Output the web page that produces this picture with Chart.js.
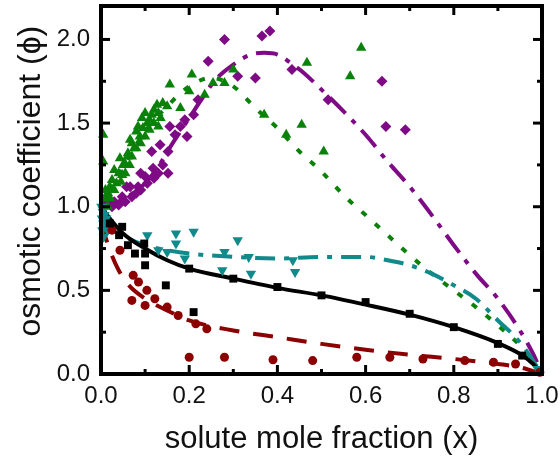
<!DOCTYPE html>
<html>
<head>
<meta charset="utf-8">
<script src="https://cdn.jsdelivr.net/npm/chart.js@4.4.0/dist/chart.umd.min.js"></script>
<style>
  html, body { margin: 0; padding: 0; background: #fff; }
</style>
</head>
<body>
<canvas id="osmoticChart" width="560" height="458"></canvas>
<script>
// black squares + solid fit
const squareX = [0.02, 0.041, 0.048, 0.061, 0.077, 0.098, 0.10, 0.10, 0.147, 0.20, 0.21, 0.30, 0.40, 0.50, 0.60, 0.70, 0.80, 0.90, 0.955];
const squareY = [0.90, 0.83, 0.88, 0.77, 0.72, 0.78, 0.72, 0.65, 0.53, 0.63, 0.37, 0.57, 0.52, 0.47, 0.43, 0.36, 0.28, 0.18, 0.11];
const blackFitX = [0, 0.02, 0.05, 0.1, 0.15, 0.2, 0.3, 0.4, 0.5, 0.6, 0.7, 0.8, 0.9, 0.95, 0.98, 1.0];
const blackFitY = [1.0, 0.93, 0.84, 0.75, 0.68, 0.63, 0.57, 0.515, 0.47, 0.415, 0.355, 0.28, 0.185, 0.12, 0.06, 0.0];

// maroon circles + dashed fit
const circleX = [0.025, 0.043, 0.07, 0.073, 0.085, 0.1, 0.104, 0.122, 0.15, 0.175, 0.2, 0.215, 0.24, 0.28, 0.39, 0.48, 0.58, 0.655, 0.73, 0.825, 0.89, 0.94, 0.995];
const circleY = [0.86, 0.74, 0.44, 0.59, 0.55, 0.41, 0.50, 0.45, 0.40, 0.35, 0.10, 0.30, 0.27, 0.10, 0.085, 0.08, 0.10, 0.10, 0.09, 0.08, 0.07, 0.06, 0.01];
const maroonFitX = [0, 0.01, 0.02, 0.04, 0.06, 0.1, 0.15, 0.2, 0.3, 0.4, 0.5, 0.6, 0.7, 0.8, 0.9, 0.95, 1.0];
const maroonFitY = [0.9, 0.82, 0.74, 0.62, 0.54, 0.45, 0.38, 0.32, 0.26, 0.22, 0.18, 0.145, 0.115, 0.09, 0.06, 0.04, 0.0];

// teal down triangles + dash-dot fit
const downX = [0.001, 0.002, 0.003, 0.004, 0.005, 0.006, 0.008, 0.01, 0.012, 0.015, 0.105, 0.13, 0.15, 0.17, 0.17, 0.19, 0.21, 0.275, 0.28, 0.31, 0.335, 0.34, 0.435, 0.44, 0.99];
const downY = [1.0, 0.93, 0.86, 0.97, 0.9, 0.82, 0.95, 0.88, 0.93, 0.86, 0.83, 0.74, 0.73, 0.84, 0.78, 0.69, 0.85, 0.62, 0.73, 0.80, 0.70, 0.60, 0.68, 0.61, 0.03];
const tealFitX = [0, 0.02, 0.05, 0.1, 0.15, 0.2, 0.3, 0.4, 0.5, 0.6, 0.65, 0.7, 0.75, 0.8, 0.85, 0.9, 0.95, 1.0];
const tealFitY = [1.0, 0.9, 0.83, 0.77, 0.74, 0.72, 0.70, 0.69, 0.70, 0.70, 0.68, 0.65, 0.60, 0.53, 0.45, 0.32, 0.19, 0.0];

// green up triangles + dotted fit
const upX = [0.005, 0.005, 0.008, 0.01, 0.015, 0.016, 0.02, 0.02, 0.025, 0.03, 0.03, 0.035, 0.04, 0.043, 0.045, 0.048, 0.05, 0.054, 0.055, 0.06, 0.061, 0.065, 0.066, 0.07, 0.07, 0.075, 0.08, 0.08, 0.084, 0.088, 0.09, 0.093, 0.095, 0.1, 0.1, 0.105, 0.11, 0.11, 0.115, 0.12, 0.12, 0.127, 0.13, 0.13, 0.135, 0.14, 0.15, 0.156, 0.18, 0.20, 0.206, 0.235, 0.254, 0.28, 0.30, 0.37, 0.42, 0.455, 0.467, 0.505, 0.565, 0.59];
const upY = [1.43, 1.27, 1.05, 1.10, 1.0, 1.08, 1.12, 1.05, 1.16, 1.22, 1.10, 1.14, 1.20, 1.29, 1.15, 1.19, 1.25, 1.26, 1.20, 1.30, 1.32, 1.25, 1.40, 1.38, 1.30, 1.35, 1.45, 1.35, 1.48, 1.42, 1.38, 1.53, 1.47, 1.56, 1.42, 1.50, 1.52, 1.46, 1.55, 1.58, 1.50, 1.61, 1.56, 1.48, 1.53, 1.62, 1.60, 1.73, 1.59, 1.69, 1.79, 1.67, 1.74, 1.74, 1.82, 1.55, 1.43, 1.49, 1.86, 1.33, 1.78, 1.95];
const greenFitX = [0, 0.05, 0.1, 0.15, 0.2, 0.25, 0.3, 0.35, 0.4, 0.45, 0.5, 0.55, 0.6, 0.65, 0.7, 0.75, 0.8, 0.85, 0.9, 0.95, 1.0];
const greenFitY = [1.0, 1.24, 1.45, 1.6, 1.72, 1.77, 1.72, 1.59, 1.47, 1.33, 1.21, 1.07, 0.95, 0.83, 0.71, 0.60, 0.50, 0.40, 0.29, 0.17, 0.0];

// purple diamonds + long dash-dot fit
const diamondX = [0.005, 0.01, 0.016, 0.025, 0.03, 0.04, 0.048, 0.055, 0.058, 0.066, 0.07, 0.08, 0.084, 0.09, 0.09, 0.10, 0.105, 0.115, 0.118, 0.12, 0.13, 0.134, 0.14, 0.152, 0.152, 0.156, 0.168, 0.18, 0.19, 0.195, 0.21, 0.22, 0.243, 0.28, 0.31, 0.35, 0.365, 0.383, 0.433, 0.515, 0.637, 0.646, 0.69];
const diamondY = [1.0, 1.02, 1.04, 1.0, 1.03, 1.01, 1.06, 1.03, 1.12, 1.12, 1.06, 1.08, 1.12, 1.10, 1.20, 1.18, 1.14, 1.33, 1.23, 1.17, 1.20, 1.37, 1.25, 1.33, 1.20, 1.48, 1.43, 1.48, 1.52, 1.42, 1.55, 1.64, 1.87, 2.0, 1.78, 1.77, 2.02, 2.05, 1.82, 1.64, 1.75, 1.48, 1.46];
const purpleFitX = [0, 0.03, 0.06, 0.1, 0.13, 0.16, 0.2, 0.23, 0.26, 0.3, 0.34, 0.37, 0.4, 0.43, 0.46, 0.5, 0.55, 0.6, 0.65, 0.7, 0.75, 0.8, 0.85, 0.9, 0.95, 0.98, 1.0];
const purpleFitY = [1.0, 1.02, 1.06, 1.14, 1.24, 1.37, 1.53, 1.65, 1.76, 1.85, 1.91, 1.92, 1.91, 1.86, 1.80, 1.70, 1.57, 1.43, 1.27, 1.12, 0.95, 0.77, 0.60, 0.45, 0.26, 0.12, 0.0];

// axis ticks
const xMajorTicks = [0, 0.2, 0.4, 0.6, 0.8, 1.0];
const xMinorTicks = [0.1, 0.3, 0.5, 0.7, 0.9];
const yMajorTicks = [0, 0.5, 1.0, 1.5, 2.0];
const yMinorTicks = [0.25, 0.75, 1.25, 1.75];

const BLACK = "#000000";
const MAROON = "#8b0000";
const TEAL = "#108a8a";
const GREEN = "#0a820a";
const PURPLE = "#7f0a85";
const FONT = "'Liberation Sans', Arial, sans-serif";

function pts(xs, ys) {
  return xs.map((x, i) => ({ x: x, y: ys[i] }));
}

function fitLine(xs, ys, color, dash, order) {
  return {
    data: pts(xs, ys),
    showLine: true,
    borderColor: color,
    borderWidth: 4,
    borderDash: dash,
    borderCapStyle: "butt",
    pointRadius: 0,
    cubicInterpolationMode: "monotone",
    fill: false,
    order: order,
  };
}

function markers(xs, ys, color, style, radius, rotation, order) {
  return {
    data: pts(xs, ys),
    showLine: false,
    pointStyle: style,
    pointRadius: radius,
    pointRotation: rotation,
    pointBackgroundColor: color,
    pointBorderColor: color,
    pointBorderWidth: 0,
    order: order,
    clip: 8,
  };
}

// frame with inward ticks on all four sides
const framePlugin = {
  id: "frame",
  afterDatasetsDraw(chart) {
    const { ctx, chartArea: a, scales } = chart;
    const seg = (x1, y1, x2, y2) => {
      ctx.beginPath();
      ctx.moveTo(x1, y1);
      ctx.lineTo(x2, y2);
      ctx.stroke();
    };
    ctx.save();
    ctx.strokeStyle = "#000";
    ctx.lineWidth = 3;
    xMajorTicks.forEach((v) => {
      const px = scales.x.getPixelForValue(v);
      seg(px, a.bottom, px, a.bottom - 9);
      seg(px, a.top, px, a.top + 9);
    });
    xMinorTicks.forEach((v) => {
      const px = scales.x.getPixelForValue(v);
      seg(px, a.bottom, px, a.bottom - 5);
      seg(px, a.top, px, a.top + 5);
    });
    yMajorTicks.forEach((v) => {
      const py = scales.y.getPixelForValue(v);
      seg(a.left, py, a.left + 9, py);
      seg(a.right, py, a.right - 9, py);
    });
    yMinorTicks.forEach((v) => {
      const py = scales.y.getPixelForValue(v);
      seg(a.left, py, a.left + 5, py);
      seg(a.right, py, a.right - 5, py);
    });
    ctx.lineWidth = 4;
    ctx.strokeRect(a.left, a.top, a.right - a.left, a.bottom - a.top);
    ctx.restore();
  },
};

const ctx = document.getElementById("osmoticChart").getContext("2d");

new Chart(ctx, {
  type: "scatter",
  data: {
    datasets: [
      fitLine(blackFitX, blackFitY, BLACK, [], 5),
      fitLine(maroonFitX, maroonFitY, MAROON, [20, 14], 5),
      fitLine(tealFitX, tealFitY, TEAL, [20, 9, 5, 9], 5),
      fitLine(greenFitX, greenFitY, GREEN, [6, 12], 5),
      fitLine(purpleFitX, purpleFitY, PURPLE, [22, 9, 5, 9], 5),
      markers(squareX, squareY, BLACK, "rect", 5.6, 0, 1),
      markers(circleX, circleY, MAROON, "circle", 4.5, 0, 1),
      markers(downX, downY, TEAL, "triangle", 6, 180, 1),
      markers(upX, upY, GREEN, "triangle", 6, 0, 1),
      markers(diamondX, diamondY, PURPLE, "rectRot", 5.5, 0, 1),
    ],
  },
  options: {
    responsive: false,
    animation: false,
    layout: { padding: { left: 0, right: 18, top: 5, bottom: 0 } },
    plugins: {
      legend: { display: false },
      tooltip: { enabled: false },
    },
    scales: {
      x: {
        type: "linear",
        min: 0,
        max: 1,
        afterFit: (scale) => {
          scale.height = 84;
          scale.paddingLeft = 0;
          scale.paddingRight = 0;
        },
        grid: { display: false, drawTicks: false },
        border: { display: false },
        ticks: {
          stepSize: 0.2,
          includeBounds: false,
          padding: 8,
          color: "#111",
          font: { family: FONT, size: 24 },
          callback: (v) => v.toFixed(1),
        },
        title: {
          display: true,
          text: "solute mole fraction (x)",
          color: "#111",
          padding: { top: 0, bottom: 0 },
          font: { family: FONT, size: 31 },
        },
      },
      y: {
        type: "linear",
        min: 0,
        max: 2.2,
        afterFit: (scale) => {
          scale.width = 101;
          scale.paddingTop = 0;
          scale.paddingBottom = 0;
        },
        grid: { display: false, drawTicks: false },
        border: { display: false },
        ticks: {
          stepSize: 0.5,
          includeBounds: false,
          padding: 11,
          color: "#111",
          font: { family: FONT, size: 24 },
          callback: (v) => v.toFixed(1),
        },
        title: {
          display: true,
          text: "  osmotic coefficient (ϕ)",
          color: "#111",
          padding: { top: 12, bottom: 0 },
          font: { family: FONT, size: 32 },
        },
      },
    },
  },
  plugins: [framePlugin],
});
</script>
</body>
</html>
